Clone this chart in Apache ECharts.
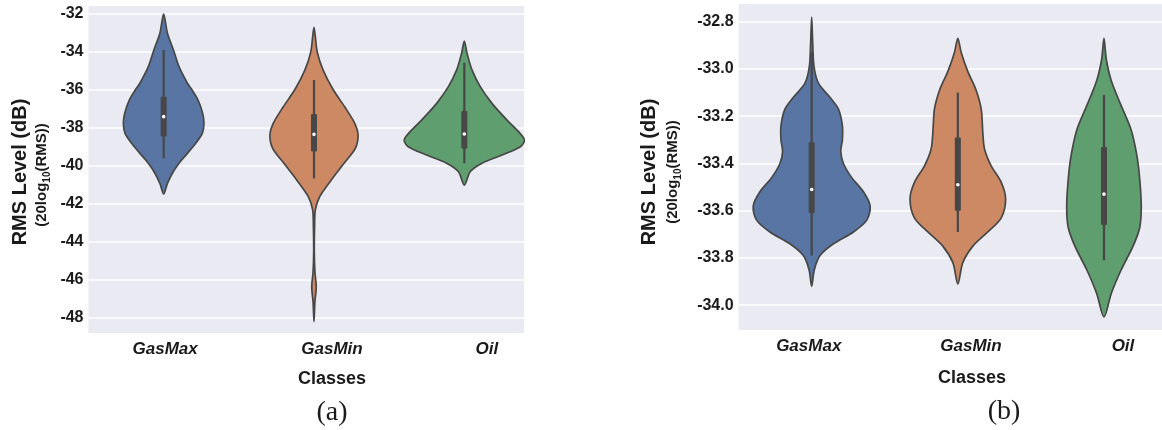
<!DOCTYPE html>
<html>
<head>
<meta charset="utf-8">
<script src="https://cdn.jsdelivr.net/npm/echarts@6/dist/echarts.min.js"></script>
<style>
  html, body { margin: 0; padding: 0; background: #ffffff; }
  #chart { width: 1162px; height: 430px; }
</style>
</head>
<body>
<div id="chart"></div>
<script>
// Classes shown on both panels
const classes = ['GasMax', 'GasMin', 'Oil'];
const fills = ['#5875A4', '#CC8963', '#5F9E6E'];

// Panel (a): violin outlines as [RMS level dB, half width in category units]
const violinA_GasMax = [[-32.04, 0], [-33.05, 0.025], [-33.93, 0.065], [-34.81, 0.102], [-35.68, 0.158],
  [-36.0, 0.186], [-36.56, 0.228], [-37.26, 0.259], [-37.79, 0.268], [-38.32, 0.257], [-38.84, 0.213],
  [-39.37, 0.158], [-39.89, 0.102], [-40.42, 0.058], [-40.96, 0.025], [-41.51, 0]];
const violinA_GasMin = [[-32.74, 0], [-34.02, 0.021], [-34.98, 0.060], [-36.0, 0.126], [-36.92, 0.204],
  [-37.79, 0.271], [-38.41, 0.293], [-39.11, 0.275], [-39.89, 0.200], [-40.77, 0.115], [-41.65, 0.038],
  [-42.35, 0.009], [-43.23, 0.004], [-44.5, 0.002], [-45.6, 0.006], [-46.4, 0.015], [-47.2, 0.006], [-48.23, 0]];
const violinA_Oil = [[-33.46, 0], [-34.1, 0.018], [-34.98, 0.051], [-35.86, 0.106], [-36.74, 0.184],
  [-37.62, 0.284], [-38.23, 0.361], [-38.67, 0.400], [-39.02, 0.373], [-39.46, 0.251], [-39.89, 0.118],
  [-40.33, 0.040], [-41.04, 0]];

// Panel (b): violin outlines
const violinB_GasMax = [[-32.78, 0], [-32.89, 0.007], [-32.99, 0.016], [-33.06, 0.046], [-33.12, 0.125],
  [-33.17, 0.183], [-33.24, 0.210], [-33.30, 0.210], [-33.35, 0.199], [-33.40, 0.217], [-33.46, 0.274],
  [-33.52, 0.354], [-33.58, 0.400], [-33.64, 0.377], [-33.69, 0.286], [-33.74, 0.149], [-33.79, 0.057],
  [-33.85, 0.018], [-33.92, 0]];
const violinB_GasMin = [[-32.87, 0], [-32.93, 0.023], [-33.01, 0.068], [-33.09, 0.125], [-33.17, 0.160],
  [-33.27, 0.171], [-33.34, 0.183], [-33.41, 0.228], [-33.48, 0.297], [-33.55, 0.327], [-33.63, 0.297],
  [-33.69, 0.205], [-33.75, 0.103], [-33.82, 0.034], [-33.91, 0]];
const violinB_Oil = [[-32.87, 0], [-32.96, 0.016], [-33.05, 0.050], [-33.15, 0.114], [-33.26, 0.187],
  [-33.37, 0.226], [-33.47, 0.245], [-33.58, 0.255], [-33.67, 0.245], [-33.75, 0.199], [-33.85, 0.118],
  [-33.95, 0.050], [-34.05, 0]];

// Inner boxes: [lower whisker, Q1, median, Q3, upper whisker]
const boxA = [[-39.63, -38.49, -37.44, -36.39, -33.93],
              [-40.69, -39.28, -38.37, -37.30, -35.51],
              [-39.89, -39.11, -38.35, -37.14, -34.60]];
const boxB = [[-33.79, -33.61, -33.51, -33.31, -32.93],
              [-33.69, -33.60, -33.49, -33.29, -33.10],
              [-33.81, -33.66, -33.53, -33.33, -33.11]];

// Tick labels
const ticksA = [-48, -46, -44, -42, -40, -38, -36, -34, -32];
const ticksB = [-34.0, -33.8, -33.6, -33.4, -33.2, -33.0, -32.8];

const ink = '#474747';
const textColor = '#1a1a1a';

function violinSeries(axisIdx, profiles, boxes) {
  return {
    type: 'custom',
    xAxisIndex: axisIdx,
    yAxisIndex: axisIdx,
    clip: true,
    z: 3,
    data: classes.map((c, i) => [i]),
    renderItem(params, api) {
      const i = params.dataIndex;
      const prof = profiles[i];
      const pts = [];
      for (let k = 0; k < prof.length; k++) pts.push(api.coord([i - prof[k][1], prof[k][0]]));
      for (let k = prof.length - 2; k >= 1; k--) pts.push(api.coord([i + prof[k][1], prof[k][0]]));
      const b = boxes[i];
      const lo = api.coord([i, b[0]]);
      const q1 = api.coord([i, b[1]]);
      const md = api.coord([i, b[2]]);
      const q3 = api.coord([i, b[3]]);
      const hi = api.coord([i, b[4]]);
      return {
        type: 'group',
        children: [
          { type: 'polygon', shape: { points: pts, smooth: 0.3 },
            style: { fill: fills[i], stroke: ink, lineWidth: 1.7 } },
          { type: 'line', shape: { x1: lo[0], y1: lo[1], x2: hi[0], y2: hi[1] },
            style: { stroke: ink, lineWidth: 2.2 } },
          { type: 'rect', shape: { x: q3[0] - 3, y: q3[1], width: 6, height: q1[1] - q3[1], r: 1 },
            style: { fill: ink } },
          { type: 'circle', shape: { cx: md[0], cy: md[1], r: 1.8 }, style: { fill: '#ffffff' } }
        ]
      };
    }
  };
}

function xAxisFor(gridIdx, labelAt) {
  return {
    type: 'value', gridIndex: gridIdx, min: -0.5, max: 2.397,
    axisLine: { show: false }, axisTick: { show: false }, splitLine: { show: false },
    axisLabel: {
      customValues: labelAt,
      formatter: v => classes[Math.round(v)],
      fontFamily: 'Liberation Sans', fontWeight: 'bold', fontStyle: 'italic',
      fontSize: 17, color: textColor, margin: 8
    }
  };
}

function yAxisFor(gridIdx, min, max, ticks, digits) {
  return {
    type: 'value', gridIndex: gridIdx, min: min, max: max,
    axisLine: { show: false },
    axisTick: { show: false, customValues: ticks },
    splitLine: { show: true, lineStyle: { color: '#ffffff', width: 1.5 } },
    axisLabel: {
      customValues: ticks,
      formatter: v => v.toFixed(digits),
      fontFamily: 'Liberation Sans', fontWeight: 'bold', fontSize: 16, color: textColor, margin: 5
    }
  };
}

function vText(x, y, text, size) {
  return { type: 'text', x: x, y: y, rotation: Math.PI / 2, z: 10,
    style: { text: text, fill: textColor, font: 'bold ' + size + 'px "Liberation Sans"',
      align: 'center', verticalAlign: 'middle', textAlign: 'center', textVerticalAlign: 'middle' } };
}

function subTitle(x, y) {
  return { type: 'text', x: x, y: y, rotation: Math.PI / 2, z: 10,
    style: {
      text: '{s|(20log}{u|10}{s|(RMS))}',
      align: 'center', verticalAlign: 'middle', textAlign: 'center', textVerticalAlign: 'middle',
      rich: {
        s: { fontFamily: 'Liberation Sans', fontWeight: 'bold', fontSize: 15, fill: textColor, color: textColor,
             lineHeight: 20, verticalAlign: 'middle' },
        u: { fontFamily: 'Liberation Sans', fontWeight: 'bold', fontSize: 10, fill: textColor, color: textColor,
             lineHeight: 11, verticalAlign: 'bottom' }
      }
    } };
}

function hText(x, y, text, font) {
  return { type: 'text', x: x, y: y, z: 10,
    style: { text: text, fill: textColor, font: font,
      align: 'center', verticalAlign: 'middle', textAlign: 'center', textVerticalAlign: 'middle' } };
}

const chart = echarts.init(document.getElementById('chart'), null, { renderer: 'canvas' });
chart.setOption({
  animation: false,
  backgroundColor: '#ffffff',
  grid: [
    { left: 88.5, top: 6, width: 435.5, height: 327, show: true, backgroundColor: '#EAEAF2', borderWidth: 0 },
    { left: 738.6, top: 4, width: 423.4, height: 326, show: true, backgroundColor: '#EAEAF2', borderWidth: 0 }
  ],
  xAxis: [xAxisFor(0, [0.01, 1.12, 2.15]), xAxisFor(1, [-0.02, 1.09, 2.13])],
  yAxis: [yAxisFor(0, -48.826, -31.616, ticksA, 0), yAxisFor(1, -34.105, -32.725, ticksB, 1)],
  series: [violinSeries(0, [violinA_GasMax, violinA_GasMin, violinA_Oil], boxA),
           violinSeries(1, [violinB_GasMax, violinB_GasMin, violinB_Oil], boxB)],
  graphic: [
    vText(20, 172, 'RMS Level (dB)', 20),
    subTitle(42, 175),
    vText(649, 172, 'RMS Level (dB)', 20),
    subTitle(673, 172),
    hText(332, 379, 'Classes', 'bold 18px "Liberation Sans"'),
    hText(972, 378, 'Classes', 'bold 18px "Liberation Sans"'),
    hText(332, 413, '(a)', '28px "Liberation Serif"'),
    hText(1004, 412, '(b)', '28px "Liberation Serif"')
  ]
});
</script>
</body>
</html>
